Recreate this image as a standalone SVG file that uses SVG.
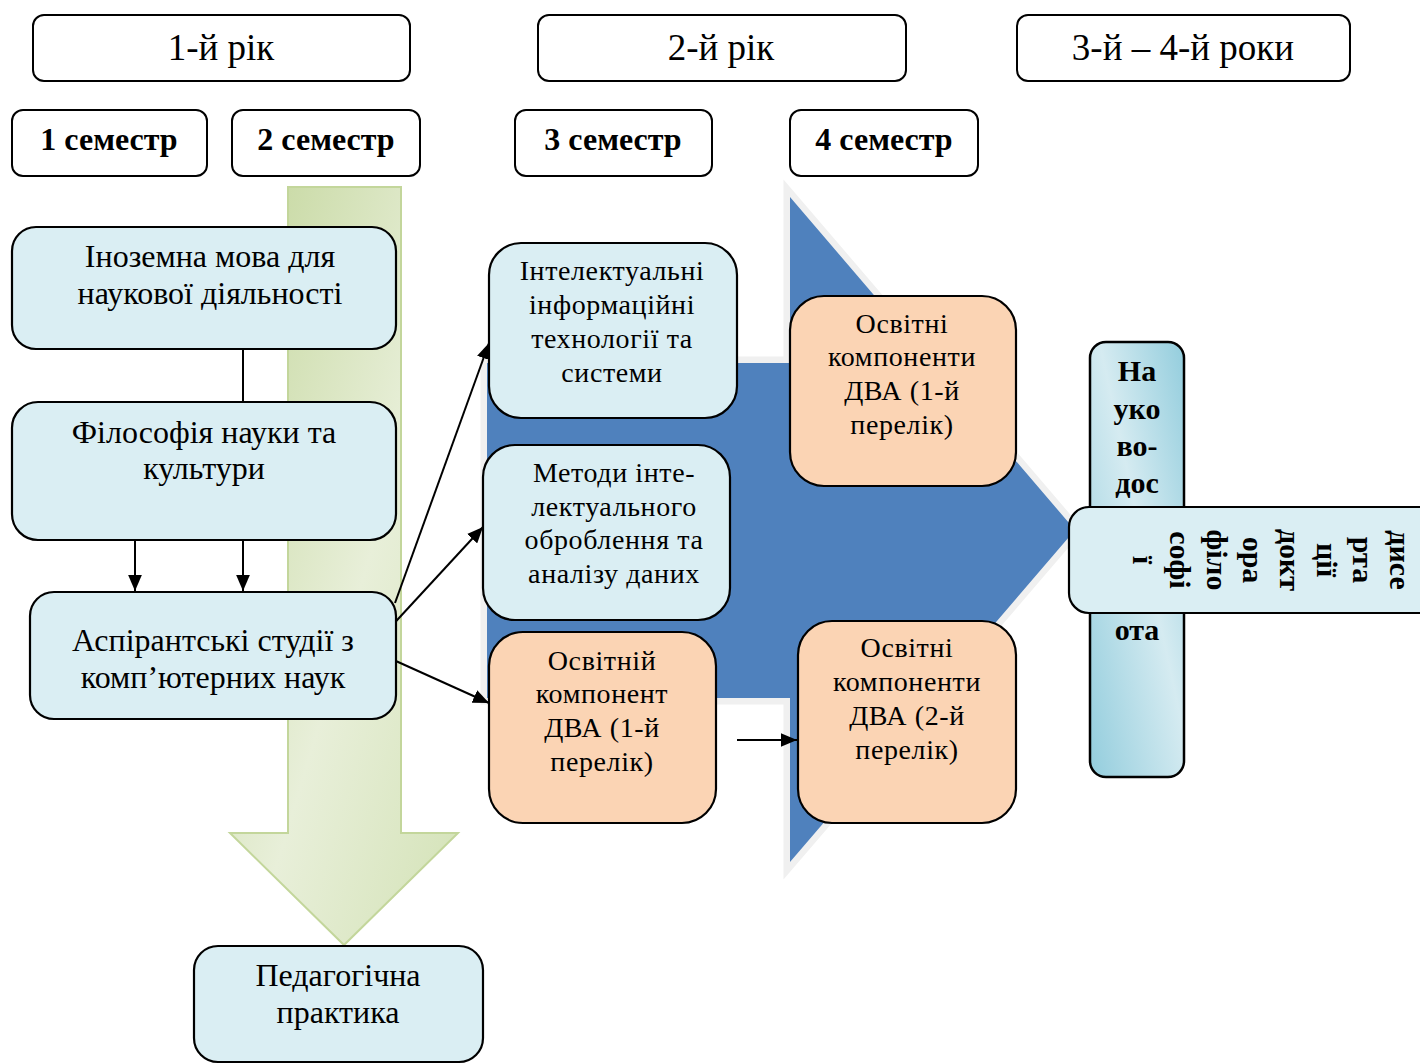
<svg xmlns="http://www.w3.org/2000/svg" width="1420" height="1064" viewBox="0 0 1420 1064">
<defs>
<linearGradient id="gGreen" x1="0" y1="0" x2="1" y2="1">
<stop offset="0" stop-color="#c3d69b"/>
<stop offset="0.55" stop-color="#e8efd9"/>
<stop offset="1" stop-color="#d3e2b6"/>
</linearGradient>
<linearGradient id="gTeal" x1="1" y1="0" x2="0" y2="1">
<stop offset="0" stop-color="#93cddd"/>
<stop offset="0.45" stop-color="#d5ebf1"/>
<stop offset="1" stop-color="#93cddd"/>
</linearGradient>
<marker id="ah2" viewBox="0 0 14 12" refX="14" refY="6" markerWidth="16" markerHeight="14" markerUnits="userSpaceOnUse" orient="auto">
<path d="M0,0 L14,6 L0,12 z" fill="#000"/>
</marker>
</defs>
<style>
.hdr{fill:#fff;stroke:#000;stroke-width:2}
.blue{fill:#daeef3;stroke:#000;stroke-width:2.2}
.peach{fill:#fbd4b4;stroke:#000;stroke-width:2.2}
.t{font-family:"Liberation Serif","Times New Roman",serif;fill:#000;text-anchor:middle}
.yr{font-size:37px}
.sem{font-size:32px;font-weight:bold}
.lt{font-size:32px}
.mt{font-size:28px;letter-spacing:0.6px}
.bt{font-size:30px;font-weight:bold}
.ln{stroke:#000;stroke-width:2;fill:none}
</style>

<g id="bigArrow">
<polygon points="487,363 790,363 790,197 1075,530 790,862 790,698 487,698" fill="#4f81bd" stroke="#f0f0f0" stroke-width="13" stroke-linejoin="miter" style="paint-order:stroke"/>
</g>
<g id="greenArrow">
<polygon points="288,187 401,187 401,833 458,833 344,945 230,833 288,833" fill="url(#gGreen)" stroke="#c3d69b" stroke-width="2"/>
</g>

<g id="year1"><rect class="hdr" x="33" y="15" width="377" height="66" rx="11"/><text class="t yr" x="221" y="60">1-й рік</text></g>
<g id="year2"><rect class="hdr" x="538" y="15" width="368" height="66" rx="11"/><text class="t yr" x="721" y="60">2-й рік</text></g>
<g id="year34"><rect class="hdr" x="1017" y="15" width="333" height="66" rx="11"/><text class="t yr" x="1183" y="60">3-й – 4-й роки</text></g>

<g id="sem1"><rect class="hdr" x="12" y="110" width="195" height="66" rx="11"/><text class="t sem" x="109" y="150">1 семестр</text></g>
<g id="sem2"><rect class="hdr" x="232" y="110" width="188" height="66" rx="11"/><text class="t sem" x="326" y="150">2 семестр</text></g>
<g id="sem3"><rect class="hdr" x="515" y="110" width="197" height="66" rx="11"/><text class="t sem" x="613" y="150">3 семестр</text></g>
<g id="sem4"><rect class="hdr" x="790" y="110" width="188" height="66" rx="11"/><text class="t sem" x="884" y="150">4 семестр</text></g>

<g id="connectors">
<line class="ln" x1="243" y1="349" x2="243" y2="402"/>
<line class="ln" x1="135" y1="540" x2="135" y2="591" marker-end="url(#ah2)"/>
<line class="ln" x1="243" y1="540" x2="243" y2="591" marker-end="url(#ah2)"/>
<line class="ln" x1="395" y1="603" x2="489" y2="343" marker-end="url(#ah2)"/>
<line class="ln" x1="387" y1="631" x2="483" y2="527" marker-end="url(#ah2)"/>
<line class="ln" x1="387" y1="657" x2="489" y2="703" marker-end="url(#ah2)"/>
<line class="ln" x1="737" y1="740" x2="797" y2="740" marker-end="url(#ah2)"/>
</g>

<g id="foreignLang"><rect class="blue" x="12" y="227" width="384" height="122" rx="24"/>
<text class="t lt" x="210" y="267">Іноземна мова для</text><text class="t lt" x="210" y="304">наукової діяльності</text></g>
<g id="philosophy"><rect class="blue" x="12" y="402" width="384" height="138" rx="26"/>
<text class="t lt" x="204" y="443">Філософія науки та</text><text class="t lt" x="204" y="479">культури</text></g>
<g id="phdStudies"><rect class="blue" x="30" y="592" width="366" height="127" rx="24"/>
<text class="t lt" x="213" y="651">Аспірантські студії з</text><text class="t lt" x="213" y="688">комп’ютерних наук</text></g>
<g id="pedagogy"><rect class="blue" x="194" y="946" width="289" height="116" rx="24"/>
<text class="t lt" x="338" y="986">Педагогічна</text><text class="t lt" x="338" y="1023">практика</text></g>

<g id="intelIT"><rect class="blue" x="489" y="243" width="248" height="175" rx="32"/>
<text class="t mt" x="612" y="280">Інтелектуальні</text><text class="t mt" x="612" y="314">інформаційні</text><text class="t mt" x="612" y="348">технології та</text><text class="t mt" x="612" y="382">системи</text></g>
<g id="methods"><rect class="blue" x="483" y="445" width="247" height="175" rx="32"/>
<text class="t mt" x="614" y="482">Методи інте-</text><text class="t mt" x="614" y="516">лектуального</text><text class="t mt" x="614" y="549">оброблення та</text><text class="t mt" x="614" y="583">аналізу даних</text></g>
<g id="elective1a"><rect class="peach" x="489" y="632" width="227" height="191" rx="34"/>
<text class="t mt" x="602" y="670">Освітній</text><text class="t mt" x="602" y="703">компонент</text><text class="t mt" x="602" y="737">ДВА (1-й</text><text class="t mt" x="602" y="771">перелік)</text></g>
<g id="elective1b"><rect class="peach" x="790" y="296" width="226" height="190" rx="34"/>
<text class="t mt" x="902" y="333">Освітні</text><text class="t mt" x="902" y="366">компоненти</text><text class="t mt" x="902" y="400">ДВА (1-й</text><text class="t mt" x="902" y="434">перелік)</text></g>
<g id="elective2"><rect class="peach" x="798" y="621" width="218" height="202" rx="34"/>
<text class="t mt" x="907" y="657">Освітні</text><text class="t mt" x="907" y="691">компоненти</text><text class="t mt" x="907" y="725">ДВА (2-й</text><text class="t mt" x="907" y="759">перелік)</text></g>

<g id="research"><rect x="1090" y="342" width="94" height="435" rx="16" fill="url(#gTeal)" stroke="#000" stroke-width="2.5"/>
<text class="t bt" x="1137" y="381">На</text><text class="t bt" x="1137" y="419">уко</text><text class="t bt" x="1137" y="456">во-</text><text class="t bt" x="1137" y="493">дос</text><text class="t bt" x="1137" y="640">ота</text></g>
<g id="dissertation"><rect x="1069" y="507" width="370" height="106" rx="20" fill="#daeef3" stroke="#000" stroke-width="2.2"/>
<text class="t bt" transform="translate(1390,560) rotate(90)">дисе</text>
<text class="t bt" transform="translate(1353,560) rotate(90)">рта</text>
<text class="t bt" transform="translate(1317,560) rotate(90)">ції</text>
<text class="t bt" transform="translate(1280,560) rotate(90)">докт</text>
<text class="t bt" transform="translate(1243,560) rotate(90)">ора</text>
<text class="t bt" transform="translate(1207,560) rotate(90)">філо</text>
<text class="t bt" transform="translate(1170,560) rotate(90)">софі</text>
<text class="t bt" transform="translate(1133,560) rotate(90)">ї</text>
</g>
</svg>
